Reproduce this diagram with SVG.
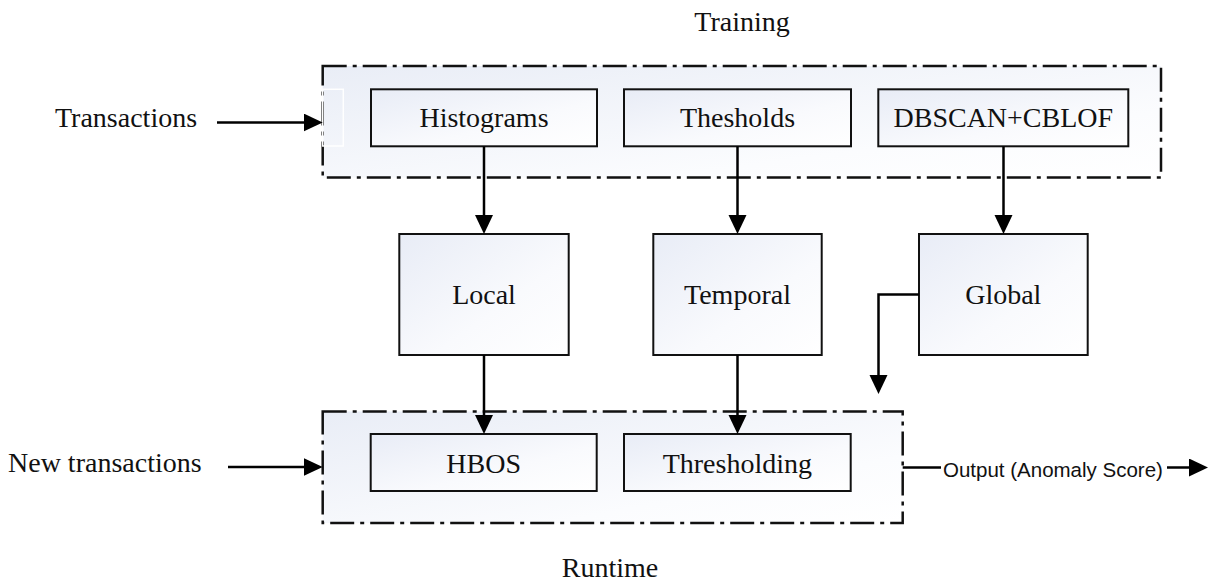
<svg xmlns="http://www.w3.org/2000/svg" width="1216" height="583" viewBox="0 0 1216 583">
  <style>
    .lbl { font-family: "Liberation Serif", "Times New Roman", serif; font-size: 28px; fill: #111; }
    .mid { text-anchor: middle; }
    .out { font-family: "Liberation Sans", Arial, sans-serif; font-size: 20.5px; fill: #111; }
    .box { fill: url(#boxFill); stroke: #111; stroke-width: 2; }
    .frame { stroke: #111; stroke-width: 2.5; stroke-dasharray: 24 6 4 6; }
    .wire { fill: none; stroke: #000; stroke-width: 2.5; }
  </style>
  <defs>
    <linearGradient id="boxFill" x1="0" y1="0" x2="1" y2="1">
      <stop offset="0" stop-color="#e8ecf6"/>
      <stop offset="0.6" stop-color="#f9fafd"/>
      <stop offset="1" stop-color="#ffffff"/>
    </linearGradient>
    <linearGradient id="frameFill" x1="0" y1="0" x2="1" y2="1">
      <stop offset="0" stop-color="#e9edf6"/>
      <stop offset="0.7" stop-color="#fbfcfe"/>
      <stop offset="1" stop-color="#ffffff"/>
    </linearGradient>
    <marker id="head" markerUnits="userSpaceOnUse" markerWidth="20" markerHeight="20" refX="9" refY="9" orient="auto">
      <path d="M0,0 L19,9 L0,18 Z" fill="#000"/>
    </marker>
  </defs>

  <!-- stage frames -->
  <g id="training">
    <rect class="frame" x="322.7" y="66" width="838.3" height="111.5" fill="url(#frameFill)"/>
    <rect x="322.7" y="89.3" width="20.6" height="56.7" fill="none" stroke="#fff" stroke-width="1.5"/>
    <text class="lbl mid" x="742" y="31">Training</text>
  </g>
  <g id="runtime">
    <rect class="frame" x="322.7" y="411.5" width="580" height="111.5" fill="url(#frameFill)"/>
    <text class="lbl mid" x="610" y="577">Runtime</text>
  </g>

  <!-- inputs -->
  <g id="transactions">
    <text class="lbl" x="55" y="126.7">Transactions</text>
  </g>
  <g id="new-transactions">
    <text class="lbl" x="8" y="471.5">New transactions</text>
  </g>

  <!-- training steps -->
  <g id="histograms">
    <rect class="box" x="371" y="89.3" width="226" height="57"/>
    <text class="lbl mid" x="484" y="127.3">Histograms</text>
  </g>
  <g id="thesholds">
    <rect class="box" x="624" y="89.3" width="227" height="57"/>
    <text class="lbl mid" x="737.5" y="127.3">Thesholds</text>
  </g>
  <g id="dbscan-cblof">
    <rect class="box" x="878.3" y="89.3" width="250" height="57"/>
    <text class="lbl mid" x="1003.3" y="127.3">DBSCAN+CBLOF</text>
  </g>

  <!-- models -->
  <g id="local">
    <rect class="box" x="399.3" y="234" width="169.4" height="121"/>
    <text class="lbl mid" x="484" y="303.5">Local</text>
  </g>
  <g id="temporal">
    <rect class="box" x="653.3" y="234" width="168.4" height="121"/>
    <text class="lbl mid" x="737.5" y="303.5">Temporal</text>
  </g>
  <g id="global">
    <rect class="box" x="919" y="234" width="168.7" height="121"/>
    <text class="lbl mid" x="1003.3" y="303.5">Global</text>
  </g>

  <!-- runtime steps -->
  <g id="hbos">
    <rect class="box" x="370.7" y="434" width="226" height="57"/>
    <text class="lbl mid" x="483.7" y="472.5">HBOS</text>
  </g>
  <g id="thresholding">
    <rect class="box" x="624" y="434" width="226.7" height="57"/>
    <text class="lbl mid" x="737.3" y="472.5">Thresholding</text>
  </g>

  <!-- output label -->
  <g id="output">
    <text class="out" x="943" y="476.5">Output (Anomaly Score)</text>
  </g>

  <!-- connectors -->
  <g id="connectors">
    <path class="wire" d="M217,122.5 H312.7" marker-end="url(#head)"/>
    <path class="wire" d="M228,467 H312.7" marker-end="url(#head)"/>
    <path class="wire" d="M484,146.3 V224" marker-end="url(#head)"/>
    <path class="wire" d="M737.5,146.3 V224" marker-end="url(#head)"/>
    <path class="wire" d="M1003.5,146.3 V224" marker-end="url(#head)"/>
    <path class="wire" d="M484,355 V424" marker-end="url(#head)"/>
    <path class="wire" d="M737.5,355 V424" marker-end="url(#head)"/>
    <path class="wire" d="M919,294.5 H878.5 V384" marker-end="url(#head)"/>
    <path class="wire" d="M902.7,467.5 H941"/>
    <path class="wire" d="M1167,467.5 H1198" marker-end="url(#head)"/>
  </g>
</svg>
